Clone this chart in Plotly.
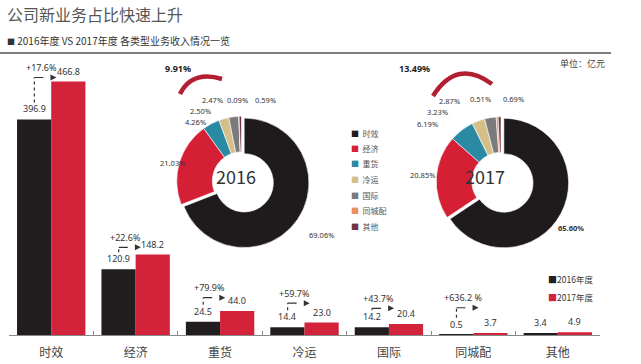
import plotly.graph_objects as go

# ---------------- data ----------------
categories = ["时效", "经济", "重货", "冷运", "国际", "同城配", "其他"]
rev_2016 = [396.9, 120.9, 24.5, 14.4, 14.2, 0.5, 3.4]
rev_2017 = [466.8, 148.2, 44.0, 23.0, 20.4, 3.7, 4.9]
growth_labels = ["+17.6%", "+22.6%", "+79.9%", "+59.7%", "+43.7%", "+636.2 %", None]
share_2016 = [69.06, 21.03, 4.26, 2.50, 2.47, 0.09, 0.59]
share_2017 = [65.60, 20.85, 6.19, 3.23, 2.87, 0.51, 0.69]
years = ["2016", "2017"]
bar_names = ["2016年度", "2017年度"]

# ---------------- styles / layout helpers ----------------
W, H = 641, 364
BLACK = "#221e1f"
RED = "#d3233a"
pie_colors = ["#1f1b1c", "#d51f35", "#2b8aa3", "#d4bf88", "#7b7b7d", "#e8905f", "#6e3444"]
FONT = "Noto Sans CJK SC, Noto Sans, sans-serif"
NUM_FONT = "Liberation Sans Narrow, Noto Sans, sans-serif"


def px(x, y):
    return x / W, 1 - y / H


# bar chart geometry
y_dom = [(H - 335) / H, (H - 60) / H]
y_max = 275 / 0.543

# arrow heights above black bar tops (px)
arrow_shift = [42, 22, 24, 24, 19, 27, None]

# donut label positions (px)
pie_label_pos = {
    "2016": [(321, 235), (159, 163), (184, 122), (189, 111), (201, 100), (237, 100), (265, 100)],
    "2017": [(585, 228), (422, 175), (439, 124), (449, 112), (461, 101), (492, 99), (525, 99)],
}
pie_center = {"2016": (241.5, 181), "2017": (501, 181.5)}
pie_year_text = {"2016": (236, 176), "2017": (507, 176)}
pie_new_label = {"2016": (163, 68), "2017": (414, 68)}
pie_arc = {"2016": ((180, 94), (192, 70), (222, 79)), "2017": ((433, 96), (457, 58), (492, 84))}
R_OUT = 68
PULL = 0.05

fig = go.Figure()

# ---------------- bars ----------------
fig.add_trace(go.Bar(x=categories, y=rev_2016, name=bar_names[0], marker_color=BLACK,
                     marker_line_width=0, showlegend=False, hoverinfo="x+y"))
fig.add_trace(go.Bar(x=categories, y=rev_2017, name=bar_names[1], marker_color=RED,
                     marker_line_width=0, showlegend=False, hoverinfo="x+y"))

# ---------------- donuts ----------------
half = R_OUT
for yr, shares in zip(years, [share_2016, share_2017]):
    cx, cy = pie_center[yr]
    x0, y1 = px(cx - half, cy - half)
    x1, y0 = px(cx + half, cy + half)
    fig.add_trace(go.Pie(
        labels=categories, values=shares, hole=0.45, sort=False, direction="clockwise",
        rotation=0, pull=[PULL] + [0] * (len(shares) - 1),
        marker=dict(colors=pie_colors, line=dict(color="white", width=0.6)),
        textinfo="none", showlegend=False, domain=dict(x=[x0, x1], y=[y0, y1]),
        hoverinfo="label+value",
    ))

annotations = []
shapes = []

# title / subtitle / unit
annotations.append(dict(x=px(5, 0)[0], y=px(0, 14)[1], xref="paper", yref="paper",
                        text="公司新业务占比快速上升", showarrow=False, xanchor="left",
                        yanchor="middle", font=dict(family=FONT, size=16, color="#555")))
annotations.append(dict(x=px(5, 0)[0], y=px(0, 40)[1], xref="paper", yref="paper",
                        text="<span style='font-size:8px'>■</span> 2016年度 VS 2017年度 各类型业务收入情况一览",
                        showarrow=False, xanchor="left", yanchor="middle",
                        font=dict(family=FONT, size=10, color="#333")))
annotations.append(dict(x=px(607, 0)[0], y=px(0, 63)[1], xref="paper", yref="paper",
                        text="单位：亿元", showarrow=False, xanchor="right", yanchor="middle",
                        font=dict(family=FONT, size=9, color="#444")))
shapes.append(dict(type="line", xref="paper", yref="paper", x0=0, x1=px(611, 0)[0],
                   y0=px(0, 53)[1], y1=px(0, 53)[1], line=dict(color="#555", width=1.5)))

# bar value labels
for i in range(len(categories)):
    for off, vals in [(-0.2025, rev_2016), (0.2025, rev_2017)]:
        annotations.append(dict(x=i + off, y=vals[i], xref="x", yref="y", text=f"{vals[i]:.1f}",
                                showarrow=False, yanchor="middle", yshift=10.5,
                                font=dict(family=NUM_FONT, size=9, color="#333")))

# growth arrows and labels
for i, g in enumerate(growth_labels):
    if g is None:
        continue
    s = arrow_shift[i]
    base = rev_2016[i]
    xs, xe = i - 0.2, i + 0.05
    shapes.append(dict(type="line", xref="x", yref="y", ysizemode="pixel", yanchor=base,
                       x0=xs, x1=xe - 0.03, y0=s, y1=s,
                       line=dict(color="#333", width=1.2, dash="dash")))
    if s > 17:
        shapes.append(dict(type="line", xref="x", yref="y", ysizemode="pixel", yanchor=base,
                           x0=xs, x1=xs, y0=17, y1=s,
                           line=dict(color="#333", width=1.2, dash="dot")))
    shapes.append(dict(type="path", xref="x", yref="y", xsizemode="pixel", ysizemode="pixel",
                       xanchor=xe, yanchor=base,
                       path=f"M -5 {s + 3} L 1 {s} L -5 {s - 3} Z",
                       fillcolor="#333", line=dict(width=0)))
    annotations.append(dict(x=i - 0.12, y=base, xref="x", yref="y", text=g, showarrow=False,
                            yanchor="middle", yshift=s + 10,
                            font=dict(family=NUM_FONT, size=9, color="#333")))

# donut labels, centre text, new-business arcs
for yr, shares in zip(years, [share_2016, share_2017]):
    for j, (v, (lx, ly)) in enumerate(zip(shares, pie_label_pos[yr])):
        bold = (j == 0 and yr == "2017")
        txt = f"{v:.2f}%"
        annotations.append(dict(x=px(lx, 0)[0], y=px(0, ly)[1], xref="paper", yref="paper",
                                text=f"<b>{txt}</b>" if bold else txt, showarrow=False,
                                yanchor="middle", borderpad=0,
                                font=dict(family=NUM_FONT, size=7.5, color="#333")))
    tx, ty = pie_year_text[yr]
    annotations.append(dict(x=px(tx, 0)[0], y=px(0, ty)[1], xref="paper", yref="paper",
                            text=yr, showarrow=False, yanchor="middle",
                            font=dict(family=FONT, size=18, color="#333")))
    new_share = sum(shares[2:])
    nx, ny = pie_new_label[yr]
    annotations.append(dict(x=px(nx, 0)[0], y=px(0, ny)[1], xref="paper", yref="paper",
                            text=f"<b>{new_share:.2f}%</b>", showarrow=False, yanchor="middle",
                            font=dict(family=NUM_FONT, size=9, color="#222")))
    (ax0, ay0), (acx, acy), (ax1, ay1) = pie_arc[yr]
    p0, c, p1 = px(ax0, ay0), px(acx, acy), px(ax1, ay1)
    shapes.append(dict(type="path", xref="paper", yref="paper",
                       path=f"M {p0[0]} {p0[1]} Q {c[0]} {c[1]} {p1[0]} {p1[1]}",
                       line=dict(color="#b31f30", width=4.5)))

# donut legend
for j, (cat, col) in enumerate(zip(categories, pie_colors)):
    ly = 133 + j * 15.5
    annotations.append(dict(x=px(349, 0)[0], y=px(0, ly)[1], xref="paper", yref="paper",
                            text=f"<span style='color:{col};font-size:8px'>■</span>  {cat}",
                            showarrow=False, xanchor="left", yanchor="middle",
                            font=dict(family=FONT, size=8, color="#555")))

# bar legend
for j, (nm, col) in enumerate(zip(bar_names, [BLACK, RED])):
    ly = 279 + j * 18
    annotations.append(dict(x=px(546, 0)[0], y=px(0, ly)[1], xref="paper", yref="paper",
                            text=f"<span style='color:{col};font-size:9px'>■</span>{nm}",
                            showarrow=False, xanchor="left", yanchor="middle",
                            font=dict(family=FONT, size=8.5, color="#333")))

fig.update_layout(
    width=W, height=H, margin=dict(l=0, r=0, t=0, b=0),
    paper_bgcolor="white", plot_bgcolor="white",
    barmode="group", bargap=0.19, bargroupgap=0,
    font=dict(family=FONT),
    xaxis=dict(domain=[9 / W, 600 / W], type="category", range=[-0.5, 6.5],
               showline=True, linecolor="#888", linewidth=1, ticks="inside",
               tickson="boundaries", ticklen=4, tickcolor="#888", showgrid=False,
               ticklabelstandoff=7,
               tickfont=dict(family=FONT, size=12, color="#444"), fixedrange=True),
    yaxis=dict(domain=y_dom, range=[0, y_max], visible=False, fixedrange=True),
    annotations=annotations, shapes=shapes,
)

fig.write_html("out.html", post_script="document.body.style.margin='0';",
               config={"displayModeBar": False})
